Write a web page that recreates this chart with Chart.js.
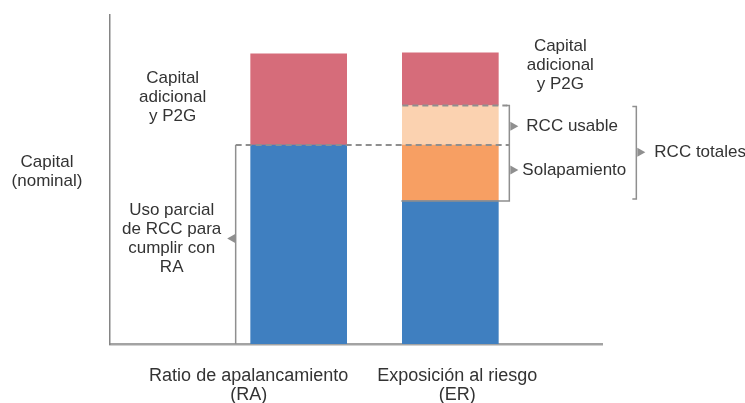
<!DOCTYPE html>
<html>
<head>
<meta charset="utf-8">
<script src="https://cdn.jsdelivr.net/npm/chart.js@4.4.1/dist/chart.umd.min.js"></script>
<style>
  html, body { margin: 0; padding: 0; background: #fff; }
</style>
</head>
<body>
<canvas id="myChart" width="745" height="403"></canvas>
<script>
// categorias (eje x) y segmentos apilados de abajo hacia arriba
const categories = [["Ratio de apalancamiento", "(RA)"], ["Exposición al riesgo", "(ER)"]];
const capitalBase = [60.5, 43.5];
const solapamiento = [null, 17];
const rccUsable = [null, 12];
const capitalAdicional = [27.7, 16];

const FONT = "17px 'Liberation Sans', Arial, Helvetica, sans-serif";
const FONT_CAT = "18px 'Liberation Sans', Arial, Helvetica, sans-serif";
const TEXT = "#333333";
const LINE = "#8f8f8f";

function pts(values) {
  return values.map((v, i) => ({ x: i, y: v }));
}

/* dibuja texto multilinea centrado en (x, y) */
function lines(c, list, x, y, align) {
  const lh = 19;
  c.textAlign = align || "center";
  list.forEach((t, k) => {
    c.fillText(t, x, y + (k - (list.length - 1) / 2) * lh);
  });
}

function arrow(c, x, y, dir) {
  c.beginPath();
  c.moveTo(x, y - 4.5);
  c.lineTo(x, y + 4.5);
  c.lineTo(x + dir * 8, y);
  c.closePath();
  c.fill();
}

const notes = {
  id: "notes",
  afterDatasetsDraw(chart) {
    const c = chart.ctx;
    const ys = chart.scales.y;
    const area = chart.chartArea;
    const ra = chart.getDatasetMeta(0).data[0];
    const er = chart.getDatasetMeta(0).data[1];
    const raLeft = ra.x - ra.width / 2;
    const erLeft = er.x - er.width / 2;
    const erRight = er.x + er.width / 2;

    const yZero = ys.getPixelForValue(0);
    const yLevel = ys.getPixelForValue(capitalBase[0]);
    const yErBase = ys.getPixelForValue(capitalBase[1]);
    const yUsableTop = ys.getPixelForValue(capitalBase[1] + solapamiento[1] + rccUsable[1]);
    const yErTop = ys.getPixelForValue(capitalBase[1] + solapamiento[1] + rccUsable[1] + capitalAdicional[1]);
    const yRaTop = ys.getPixelForValue(capitalBase[0] + capitalAdicional[0]);

    const xBrRA = raLeft - 15;
    const xBrER = erRight + 11;
    const xBrTot = erRight + 138;

    c.save();
    c.strokeStyle = LINE;
    c.fillStyle = LINE;

    // lineas discontinuas
    c.lineWidth = 2;
    c.setLineDash([6, 4]);
    c.beginPath();
    c.moveTo(xBrRA, yLevel);
    c.lineTo(xBrER, yLevel);
    c.moveTo(erLeft, yUsableTop);
    c.lineTo(xBrER - 2, yUsableTop);
    c.stroke();
    c.setLineDash([]);

    // corchetes
    c.lineWidth = 1.5;
    c.beginPath();
    c.moveTo(xBrRA, yLevel);
    c.lineTo(xBrRA, yZero);
    c.moveTo(xBrER - 3, yUsableTop);
    c.lineTo(xBrER, yUsableTop);
    c.lineTo(xBrER, yErBase);
    c.lineTo(erLeft - 1, yErBase);
    c.moveTo(xBrTot - 4, yUsableTop + 1);
    c.lineTo(xBrTot, yUsableTop + 1);
    c.lineTo(xBrTot, yErBase - 2);
    c.lineTo(xBrTot - 4, yErBase - 2);
    c.stroke();

    const yArrRA = (yLevel + yZero) / 2 - 6;
    const yArrUsable = (yUsableTop + yLevel) / 2 + 1;
    const yArrSolap = (yLevel + yErBase) / 2 - 3;
    const yArrTot = (yUsableTop + yErBase) / 2 - 1;
    arrow(c, xBrRA - 0.5, yArrRA, -1);
    arrow(c, xBrER + 1, yArrUsable, 1);
    arrow(c, xBrER + 1, yArrSolap, 1);
    arrow(c, xBrTot + 1, yArrTot, 1);

    // textos
    c.font = FONT;
    c.fillStyle = TEXT;
    c.textBaseline = "middle";
    lines(c, ["Capital", "(nominal)"], area.left - 63, (area.top + area.bottom) / 2 - 8);
    lines(c, ["Capital", "adicional", "y P2G"], ra.x - 126, (yRaTop + yLevel) / 2 - 2);
    lines(c, ["Uso parcial", "de RCC para", "cumplir con", "RA"], ra.x - 127, yArrRA);
    lines(c, ["Capital", "adicional", "y P2G"], er.x + 110, yErTop + 12);
    lines(c, ["RCC usable"], xBrER + 17, yArrUsable, "left");
    lines(c, ["Solapamiento"], xBrER + 13, yArrSolap, "left");
    lines(c, ["RCC totales"], xBrTot + 18, yArrTot, "left");
    c.font = FONT_CAT;
    lines(c, categories[0], ra.x - 50, area.bottom + 42);
    lines(c, categories[1], er.x + 7, area.bottom + 42);
    c.restore();
  }
};

const ctx = document.getElementById("myChart");
const myChart = new Chart(ctx, {
  type: "bar",
  data: {
    datasets: [
      { label: "Capital", data: pts(capitalBase), backgroundColor: "#3f7fc0" },
      { label: "Solapamiento", data: pts(solapamiento), backgroundColor: "#f79f63" },
      { label: "RCC usable", data: pts(rccUsable), backgroundColor: "#fbd2b0" },
      { label: "Capital adicional y P2G", data: pts(capitalAdicional), backgroundColor: "#d66c7a" },
    ],
  },
  options: {
    responsive: false,
    animation: false,
    barThickness: 96,
    layout: { padding: { left: 110, right: 143, top: 15, bottom: 59 } },
    plugins: { legend: { display: false }, tooltip: { enabled: false } },
    scales: {
      x: {
        type: "linear",
        stacked: true,
        offset: false,
        min: -1.244,
        max: 2.0,
        grid: { display: false, drawTicks: false, offset: false },
        ticks: { display: false },
        border: { display: true, color: "#a3a3a3", width: 2.5 },
      },
      y: {
        stacked: true,
        min: 0,
        max: 100,
        grid: { display: false, drawTicks: false },
        ticks: { display: false },
        border: { display: true, color: "#858585", width: 1.5 },
      },
    },
  },
  plugins: [notes],
});
myChart;
</script>
</body>
</html>
